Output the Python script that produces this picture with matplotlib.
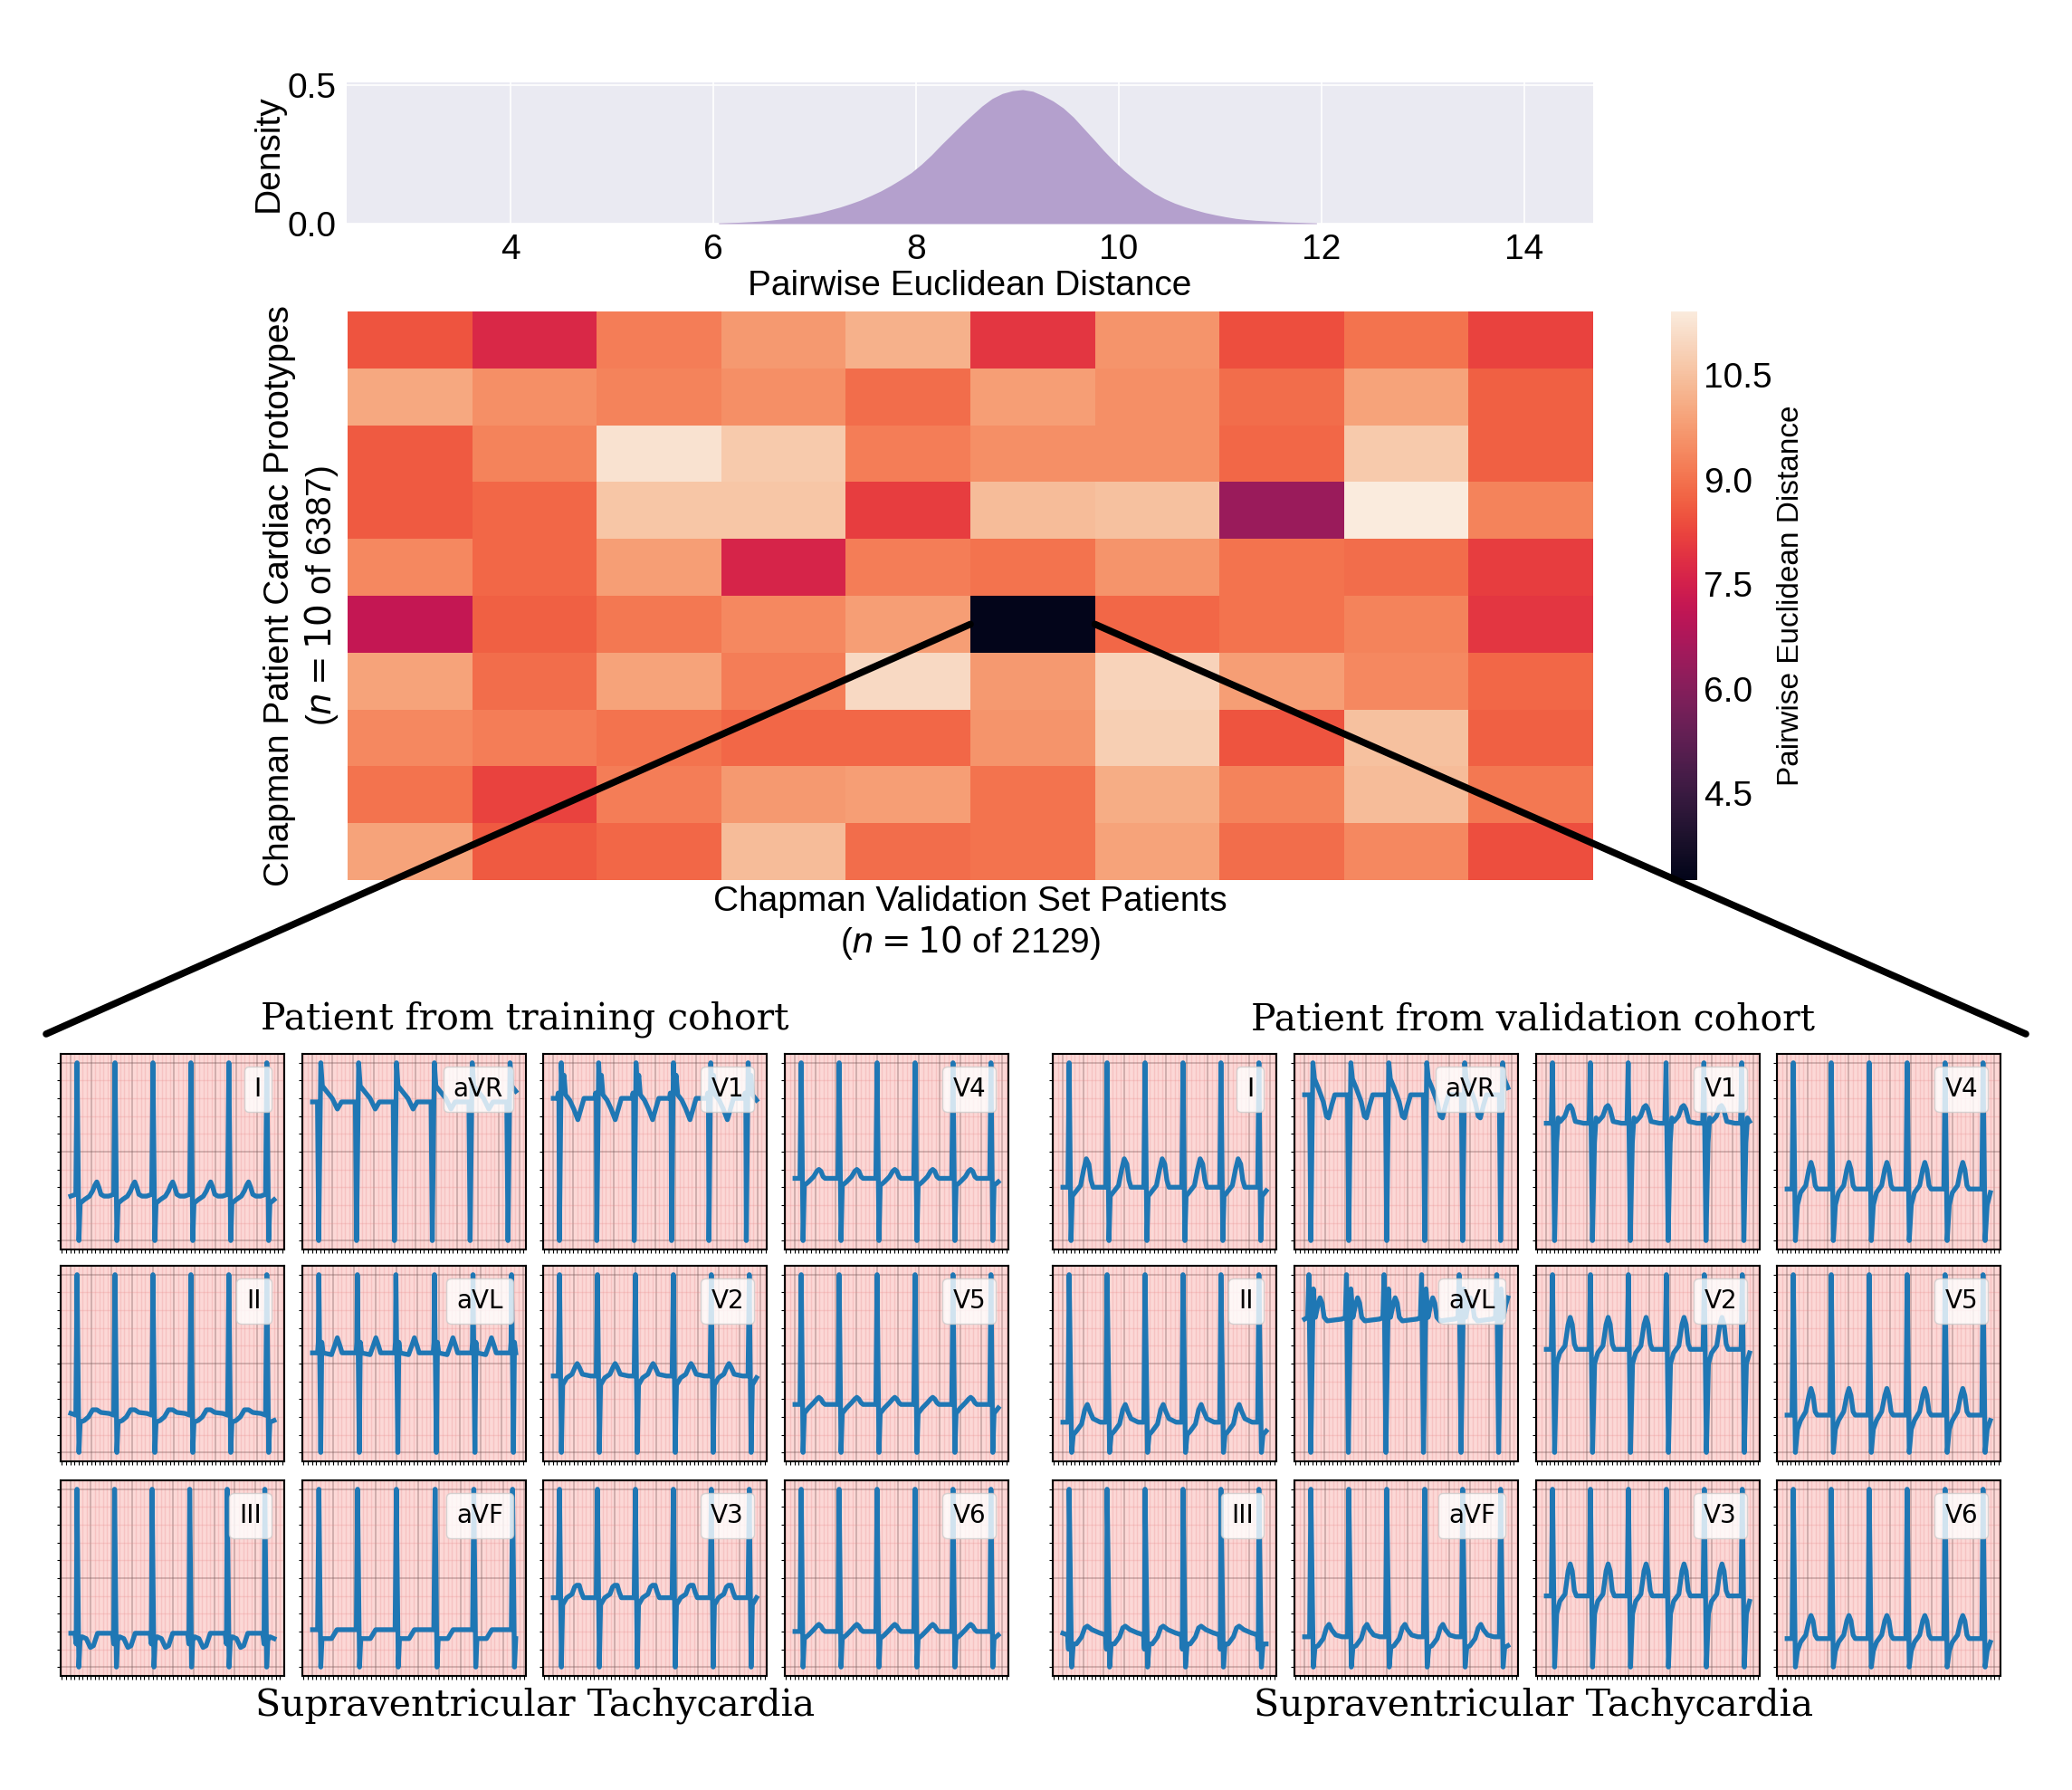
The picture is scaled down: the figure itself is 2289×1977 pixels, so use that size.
import numpy as np
import matplotlib
matplotlib.use("Agg")
import matplotlib.pyplot as plt
import seaborn as sns
from matplotlib.patches import ConnectionPatch
from matplotlib.ticker import MultipleLocator

plt.rcParams['font.family'] = ['Liberation Sans', 'DejaVu Sans']

W, H = 2289, 1977

# --- histogram of pairwise distances (density per 0.1 bin, from 6.0 to 12.0)
HIST_START = 6.0
HIST_BIN = 0.1
hist_density = [
    0.003, 0.004, 0.005, 0.007, 0.009, 0.012, 0.016, 0.021, 0.026, 0.033,
    0.040, 0.050, 0.060, 0.072, 0.085, 0.101, 0.118, 0.138, 0.160, 0.184,
    0.214, 0.248, 0.286, 0.322, 0.358, 0.392, 0.425, 0.452, 0.470, 0.480,
    0.484, 0.478, 0.462, 0.443, 0.418, 0.385, 0.345, 0.305, 0.264, 0.226,
    0.192, 0.162, 0.134, 0.110, 0.090, 0.074, 0.061, 0.050, 0.040, 0.032,
    0.025, 0.019, 0.015, 0.012, 0.010, 0.008, 0.006, 0.005, 0.004, 0.003,
]
hist_xticks = [4, 6, 8, 10, 12, 14]

# --- prototype vs validation patient distances (10 x 10)
dist_matrix = [
    [8.5, 7.7, 9.2, 9.7, 10.2, 8.0, 9.6, 8.4, 9.0, 8.2],
    [10.0, 9.5, 9.3, 9.5, 8.9, 9.8, 9.5, 8.9, 9.9, 8.7],
    [8.6, 9.3, 11.2, 10.7, 9.2, 9.5, 9.5, 8.8, 10.7, 8.7],
    [8.6, 8.8, 10.6, 10.6, 8.1, 10.4, 10.5, 6.4, 11.41, 9.3],
    [9.4, 8.8, 9.8, 7.6, 9.2, 9.0, 9.6, 9.0, 8.9, 8.1],
    [7.2, 8.7, 9.1, 9.4, 9.8, 3.26, 8.8, 9.0, 9.3, 8.0],
    [9.9, 8.9, 9.9, 9.2, 11.0, 9.7, 10.9, 9.8, 9.4, 8.8],
    [9.4, 9.2, 9.0, 8.8, 8.8, 9.6, 10.8, 8.5, 10.5, 8.7],
    [9.0, 8.2, 9.2, 9.7, 9.8, 9.0, 10.1, 9.3, 10.4, 9.1],
    [9.9, 8.6, 8.8, 10.4, 8.9, 9.0, 9.9, 8.9, 9.4, 8.4],
]
cbar_ticks = [4.5, 6.0, 7.5, 9.0, 10.5]
zoom_cell = (5, 5)  # row, col of the closest pair

# --- ECG beats: (time from beat mark in s, normalised amplitude)
beat_times = [0.066, 0.431, 0.796, 1.161, 1.526, 1.891]
trace_end = 2.0
lead_grid = [["I", "II", "III"], ["aVR", "aVL", "aVF"],
             ["V1", "V2", "V3"], ["V4", "V5", "V6"]]

train_beats = {
    "I": [(-0.06, .25), (-0.012, .26), (0, 1), (0.018, 0), (0.03, .21), (0.07, .23), (0.12, .25),
          (0.15, .28), (0.17, .31), (0.19, .33), (0.21, .30), (0.23, .26), (0.26, .25), (0.30, .25)],
    "II": [(-0.06, .22), (-0.012, .21), (0, 1), (0.018, 0), (0.03, .17), (0.07, .18), (0.11, .20),
           (0.15, .24), (0.19, .24), (0.23, .225), (0.30, .22)],
    "III": [(-0.06, .19), (-0.02, .19), (-0.008, .13), (0, 1), (0.018, 0), (0.03, .15), (0.05, .17),
            (0.09, .16), (0.13, .11), (0.16, .12), (0.20, .19), (0.30, .19)],
    "aVR": [(-0.06, .78), (-0.012, .78), (0, 0), (0.02, 1.0), (0.035, .87), (0.075, .84),
            (0.13, .80), (0.18, .74), (0.22, .78), (0.30, .78)],
    "aVL": [(-0.06, .56), (-0.012, .56), (-0.005, .62), (0, 1), (0.018, 0), (0.028, .62), (0.04, .56),
            (0.12, .55), (0.15, .60), (0.175, .645), (0.20, .60), (0.22, .56), (0.30, .56)],
    "aVF": [(-0.06, .21), (-0.012, .21), (0, 1), (0.018, 0), (0.03, .16), (0.12, .16),
            (0.15, .19), (0.17, .21), (0.30, .21)],
    "V1": [(-0.06, .80), (-0.02, .80), (-0.012, .83), (-0.005, .80), (0, 0), (0.018, 1.0), (0.03, .85),
           (0.045, .93), (0.06, .82), (0.10, .79), (0.14, .74), (0.18, .68), (0.21, .74), (0.24, .80),
           (0.30, .80)],
    "V2": [(-0.06, .43), (-0.012, .43), (0, 1), (0.018, 0), (0.03, .38), (0.07, .42), (0.12, .44),
           (0.15, .48), (0.17, .50), (0.19, .48), (0.22, .44), (0.30, .43)],
    "V3": [(-0.06, .39), (-0.012, .39), (0, 1), (0.018, 0), (0.03, .35), (0.07, .39), (0.12, .41),
           (0.145, .45), (0.165, .46), (0.19, .46), (0.21, .42), (0.23, .39), (0.30, .39)],
    "V4": [(-0.06, .35), (-0.012, .35), (0, 1), (0.018, 0), (0.03, .31), (0.07, .33), (0.12, .36),
           (0.15, .39), (0.17, .40), (0.19, .39), (0.21, .36), (0.23, .35), (0.30, .35)],
    "V5": [(-0.06, .27), (-0.012, .27), (0, 1), (0.018, 0), (0.03, .22), (0.07, .25), (0.12, .28),
           (0.15, .30), (0.17, .31), (0.19, .30), (0.21, .28), (0.23, .27), (0.30, .27)],
    "V6": [(-0.06, .20), (-0.012, .20), (0, 1), (0.018, 0), (0.03, .16), (0.07, .18), (0.12, .21),
           (0.15, .23), (0.17, .24), (0.19, .23), (0.21, .21), (0.23, .20), (0.30, .20)],
}

valid_beats = {
    "I": [(-0.06, .30), (-0.012, .30), (0, 1), (0.018, 0), (0.03, .25), (0.07, .28), (0.11, .31),
          (0.14, .40), (0.165, .46), (0.19, .43), (0.21, .34), (0.23, .30), (0.30, .30)],
    "II": [(-0.06, .17), (-0.012, .17), (0, 1), (0.024, 0), (0.04, .10), (0.07, .12), (0.12, .16),
           (0.15, .24), (0.175, .27), (0.20, .23), (0.23, .19), (0.30, .17)],
    "III": [(-0.06, .19), (-0.015, .18), (-0.006, .10), (0, 1), (0.024, 0), (0.04, .13), (0.07, .13),
            (0.12, .17), (0.15, .22), (0.175, .23), (0.22, .21), (0.30, .19)],
    "aVR": [(-0.06, .82), (-0.012, .82), (0, 0), (0.02, 1.0), (0.035, .91), (0.07, .86), (0.12, .78),
            (0.15, .70), (0.17, .69), (0.20, .76), (0.23, .82), (0.30, .82)],
    "aVL": [(-0.06, .75), (-0.03, .76), (-0.018, 1.0), (0, 0), (0.025, .92), (0.045, .76), (0.07, .83),
            (0.09, .87), (0.11, .84), (0.13, .76), (0.16, .74), (0.30, .75)],
    "aVF": [(-0.06, .17), (-0.012, .17), (0, 1), (0.024, 0), (0.04, .11), (0.07, .12), (0.12, .16),
            (0.15, .22), (0.175, .24), (0.20, .21), (0.24, .18), (0.30, .17)],
    "V1": [(-0.06, .66), (-0.012, .66), (0, 1), (0.02, 0), (0.04, .55), (0.055, .69), (0.075, .67),
           (0.12, .70), (0.15, .75), (0.17, .76), (0.19, .74), (0.22, .67), (0.30, .66)],
    "V2": [(-0.06, .58), (-0.012, .58), (0, 1), (0.02, 0), (0.04, .50), (0.07, .56), (0.12, .60),
           (0.15, .72), (0.17, .76), (0.19, .72), (0.21, .61), (0.23, .58), (0.30, .58)],
    "V3": [(-0.06, .40), (-0.012, .40), (0, 1), (0.02, 0), (0.04, .30), (0.07, .37), (0.12, .41),
           (0.15, .54), (0.17, .58), (0.19, .54), (0.21, .43), (0.23, .40), (0.30, .40)],
    "V4": [(-0.06, .29), (-0.012, .29), (0, 1), (0.02, 0), (0.04, .20), (0.07, .27), (0.12, .31),
           (0.15, .40), (0.17, .44), (0.19, .40), (0.21, .31), (0.23, .29), (0.30, .29)],
    "V5": [(-0.06, .21), (-0.012, .21), (0, 1), (0.02, 0), (0.04, .13), (0.07, .18), (0.12, .23),
           (0.15, .32), (0.17, .36), (0.19, .32), (0.21, .23), (0.23, .21), (0.30, .21)],
    "V6": [(-0.06, .16), (-0.012, .16), (0, 1), (0.02, 0), (0.04, .09), (0.07, .14), (0.12, .18),
           (0.15, .26), (0.17, .29), (0.19, .26), (0.21, .18), (0.23, .16), (0.30, .16)],
}


def px_rect(x, y, w, h):
    # pixel box (top-left origin) -> figure fraction
    return [x / W, 1 - (y + h) / H, w / W, h / H]


def build_trace(beat):
    ts, ys = [], []
    for bt in beat_times:
        for dt, v in beat:
            t = bt + dt
            if 0 <= t <= trace_end:
                ts.append(t)
                ys.append(v)
    return ts, ys


fig = plt.figure(figsize=(W / 100, H / 100), dpi=100)

# ---------------- histogram
ax_h = fig.add_axes(px_rect(383, 91, 1377, 156))
ax_h.set_facecolor('#eaeaf2')
centers = HIST_START + HIST_BIN * (np.arange(len(hist_density)) + 0.5)
ax_h.fill_between(centers, 0, hist_density, color='#b4a0cd', lw=0)
ax_h.set_axisbelow(True)
ax_h.grid(True, color='white', lw=1.2)
for s in ax_h.spines.values():
    s.set_visible(False)
ax_h.set_xlim(2.38, 14.68)
ax_h.set_ylim(0, 0.51)
ax_h.set_xticks(hist_xticks)
ax_h.set_yticks([0.0, 0.5])
ax_h.tick_params(length=0, labelsize=28, pad=8)
ax_h.set_xlabel('Pairwise Euclidean Distance', fontsize=28, labelpad=3)
ax_h.set_ylabel('Density', fontsize=28, labelpad=2)

# ---------------- heatmap
ax_m = fig.add_axes(px_rect(384, 344, 1376, 628))
ax_c = fig.add_axes(px_rect(1846, 344, 29, 628))
sns.heatmap(np.array(dist_matrix), cmap='rocket', ax=ax_m, cbar_ax=ax_c,
            xticklabels=False, yticklabels=False)
ax_m.set_xlabel('Chapman Validation Set Patients\n($n = 10$ of 2129)', fontsize=28, labelpad=4)
ax_m.set_ylabel('Chapman Patient Cardiac Prototypes\n($n = 10$ of 6387)', fontsize=28, labelpad=6)
ax_c.set_yticks(cbar_ticks)
ax_c.tick_params(length=0, labelsize=28, pad=5)
ax_c.set_ylabel('Pairwise Euclidean Distance', fontsize=24, labelpad=4)
for s in ax_c.spines.values():
    s.set_visible(False)

# zoom lines from the darkest cell
r, c = zoom_cell
for xa, xb in [(c, 51 / W), (c + 1, 2238 / W)]:
    con = ConnectionPatch(xyA=(xa, r + 0.5), coordsA='data', axesA=ax_m,
                          xyB=(xb, 1 - 1142 / H), coordsB='figure fraction',
                          color='black', lw=5.5)
    fig.add_artist(con)

# ---------------- ECG panels
col_left = {"train": [67, 334, 600, 867], "valid": [1163, 1430, 1697, 1963]}
row_top = [1164, 1398, 1635]
panel_w, panel_h = 247, 216

for group, beats in [("train", train_beats), ("valid", valid_beats)]:
    for ci, col in enumerate(lead_grid):
        for ri, lead in enumerate(col):
            ax = fig.add_axes(px_rect(col_left[group][ci], row_top[ri], panel_w, panel_h))
            ax.set_facecolor('#fcd8d6')
            t, y = build_trace(beats[lead])
            ax.plot(t, y, color='tab:blue', lw=3.8, label=lead)
            ax.xaxis.set_major_locator(MultipleLocator(0.2))
            ax.xaxis.set_minor_locator(MultipleLocator(0.04))
            ax.yaxis.set_major_locator(MultipleLocator(0.5))
            ax.yaxis.set_minor_locator(MultipleLocator(0.1))
            ax.grid(which='major', color='#6b4a4a', alpha=0.35, lw=1.2)
            ax.grid(which='minor', color='#e88888', alpha=0.25, lw=1.0)
            ax.tick_params(which='both', length=3, width=0.8, labelleft=False, labelbottom=False)
            for s in ax.spines.values():
                s.set_linewidth(1.5)
            ax.legend(loc='upper right', handlelength=0, handletextpad=0,
                      framealpha=0.8, prop={'family': 'DejaVu Sans', 'size': 20})

# ---------------- group captions
serif = {'family': 'DejaVu Serif', 'size': 29.5}
fig.text(580 / W, 1 - 1137 / H, 'Patient from training cohort', ha='center', va='baseline', fontdict=serif)
fig.text(1694 / W, 1 - 1137 / H, 'Patient from validation cohort', ha='center', va='baseline', fontdict=serif)
fig.text(591 / W, 1 - 1895 / H, 'Supraventricular Tachycardia', ha='center', va='baseline', fontdict=serif)
fig.text(1694 / W, 1 - 1895 / H, 'Supraventricular Tachycardia', ha='center', va='baseline', fontdict=serif)

fig.savefig('out.png', dpi=100, facecolor='white')
